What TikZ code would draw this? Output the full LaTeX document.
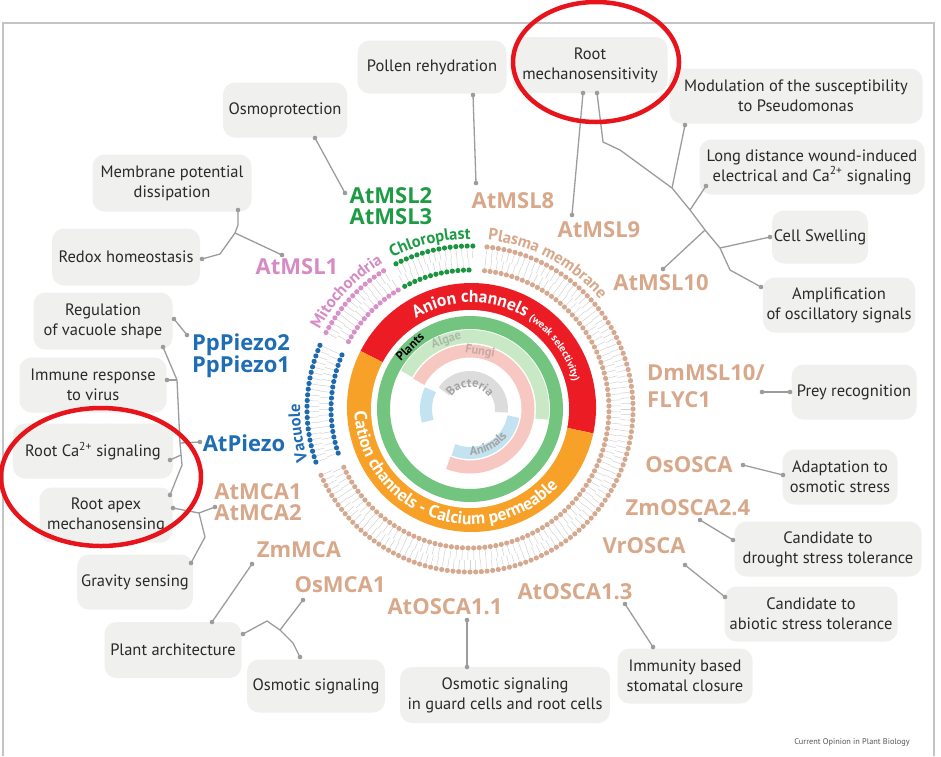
\documentclass[tikz,border=0pt]{standalone}
\usepackage{fontspec}
\setmainfont{PT Sans}
\newfontfamily\labelsans{Open Sans}
\usetikzlibrary{decorations.text}

\definecolor{geneTan}{HTML}{D8A88A}
\definecolor{geneGreen}{HTML}{1E9B45}
\definecolor{genePink}{HTML}{D68BC4}
\definecolor{geneBlue}{HTML}{1F6DB4}
\definecolor{beadTan}{HTML}{D4A98F}
\definecolor{beadGreen}{HTML}{1A9440}
\definecolor{beadPink}{HTML}{D891C8}
\definecolor{beadBlue}{HTML}{1F6AAE}
\definecolor{tailGray}{HTML}{D2D2D2}
\definecolor{boxFill}{HTML}{F0F0EF}
\definecolor{boxText}{HTML}{2A2A2A}
\definecolor{linkGray}{HTML}{9C9C9C}
\definecolor{anionRed}{HTML}{EC1C24}
\definecolor{cationOrange}{HTML}{F7A128}
\definecolor{plantGreen}{HTML}{72C47F}
\definecolor{algaeGreen}{HTML}{C9E8C5}
\definecolor{fungiPink}{HTML}{F7C8C2}
\definecolor{animalBlue}{HTML}{C2E3EF}
\definecolor{bactGray}{HTML}{DCDCDC}
\definecolor{algaeText}{HTML}{A9BBA7}
\definecolor{fungiText}{HTML}{C9A9A5}
\definecolor{bactText}{HTML}{A4A4A4}
\definecolor{markRed}{HTML}{E8141B}
\definecolor{frameGray}{HTML}{C4C4C4}
\definecolor{captionGray}{HTML}{555555}

\newcommand\boxfont{\fontsize{16.5}{20}\selectfont}
\newcommand\genefont{\labelsans\fontsize{22}{22}\selectfont\bfseries}
\newcommand\ringfont{\fontsize{17.5}{17.5}\selectfont\bfseries}
\newcommand\weakfont{\fontsize{10.5}{11}\selectfont\bfseries}
\newcommand\orgfont{\fontsize{16.5}{17}\selectfont\bfseries}
\newcommand\taxfont{\fontsize{12.5}{13}\selectfont\bfseries}

% one leaflet of a bilayer: colour, first angle, step, count, head radius, tail radii
\newcommand\leaflet[7]{%
  \foreach \i [evaluate=\i as \a using #2-#3*\i] in {0,...,#4}{%
    \draw[tailGray, line width=0.5pt] ([shift={(\a:#6)}]C) -- ([shift={(\a:#7)}]C);
    \fill[#1] ([shift={(\a:#5)}]C) circle (2.6);
  }}

\begin{document}
\begin{tikzpicture}[x=1pt,y=1pt,
  fbox/.style={fill=boxFill, rounded corners=12pt, text=boxText, font=\boxfont, align=center, inner sep=0pt},
  gene/.style={font=\genefont, inner sep=0pt, text height=15.7pt, text depth=0pt},
  link/.style={draw=linkGray, line width=1.3pt, line join=round},
  arctext/.style={decorate, decoration={text along path, text align=center, text color=#1}},
]
\useasboundingbox (0,-756) rectangle (941,0);
\fill[white] (0,-756) rectangle (941,0);
\draw[frameGray, line width=1.5pt] (3,-756) -- (3,-23) -- (934,-23) -- (934,-756);

\coordinate (C) at (470,-409);
\coordinate (Co) at (471.5,-407.5);

% ---- membranes (outer and inner leaflets) ----
\leaflet{beadTan}{84}{2}{120}{163}{160}{151}
\leaflet{beadTan}{84}{2.3}{104}{139}{142}{151}
\leaflet{beadGreen}{117}{2}{14}{163}{160}{151}
\leaflet{beadGreen}{118}{2.3}{12}{139}{142}{151}
\leaflet{beadPink}{152}{2}{15}{163}{160}{151}
\leaflet{beadPink}{151}{2.3}{13}{139}{142}{151}
\leaflet{beadBlue}{199}{2}{21}{163}{160}{151}
\leaflet{beadBlue}{198.5}{2.3}{18}{139}{142}{151}

\path[arctext=geneTan, decoration={text={|\orgfont|Plasma membrane}}]
  ([shift={(101:170)}]C) arc[start angle=101, end angle=23, radius=170];
\path[arctext=geneGreen, decoration={text={|\orgfont|Chloroplast}}]
  ([shift={(133.5:170)}]C) arc[start angle=133.5, end angle=73.5, radius=170];
\path[arctext=genePink, decoration={text={|\orgfont|Mitochondria}}]
  ([shift={(166.5:170)}]C) arc[start angle=166.5, end angle=106.5, radius=170];
\path[arctext=geneBlue, decoration={text={|\orgfont|Vacuole}}]
  ([shift={(218:170)}]C) arc[start angle=218, end angle=158, radius=170];

% ---- channel classes ----
\fill[anionRed] (Co) -- ([shift={(-12:124.5)}]Co) arc[start angle=-12, end angle=153, radius=124.5] -- cycle;
\fill[cationOrange] (Co) -- ([shift={(153:124.5)}]Co) arc[start angle=153, end angle=348, radius=124.5] -- cycle;
\fill[white] (C) circle (99);
\path[arctext=white, decoration={text={|\ringfont|Anion channels |\weakfont|(weak selectivity)}}]
  ([shift={(160:105)}]Co) arc[start angle=160, end angle=-24, radius=105];
\path[arctext=white, decoration={text={|\ringfont|Cation channels - Calcium permeable}}]
  ([shift={(160:117)}]Co) arc[start angle=160, end angle=340, radius=117];

% ---- organisms ----
\fill[plantGreen, even odd rule] (C) circle (93) (C) circle (80);
\draw[algaeGreen, line width=13pt] ([shift={(151:72.5)}]C) arc[start angle=151, end angle=-8, radius=72.5];
\draw[fungiPink, line width=13pt] ([shift={(152:58)}]C) arc[start angle=152, end angle=-112, radius=58];
\draw[animalBlue, line width=12pt] ([shift={(154:44)}]C) arc[start angle=154, end angle=196, radius=44];
\draw[animalBlue, line width=12pt] ([shift={(248:44)}]C) arc[start angle=248, end angle=350, radius=44];
\draw[bactGray, line width=13pt] ([shift={(146:31.5)}]C) arc[start angle=146, end angle=-6, radius=31.5];

\node[font=\taxfont, rotate=44, inner sep=0pt] (plants) at ([shift={(134:86.5)}]C) {Plants};
\node[font=\taxfont, rotate=19, inner sep=0pt, text=algaeText] (algae) at ([shift={(109:72.5)}]C) {Algae};
\node[font=\taxfont, rotate=-10, inner sep=0pt, text=fungiText] (fungi) at ([shift={(80:58)}]C) {Fungi};
\path[arctext=bactText, decoration={text={|\taxfont|Bacteria}}]
  ([shift={(160:22)}]C) arc[start angle=160, end angle=20, radius=22];
\path[arctext=bactText, decoration={text={|\taxfont|Animals}}]
  ([shift={(237:46)}]C) arc[start angle=237, end angle=357, radius=46];

% ---- channel names ----
\node[gene, text=geneGreen] (msltwo) at (391,-196) {AtMSL2};
\node[gene, text=geneGreen] (mslthree) at (391,-217) {AtMSL3};
\node[gene, text=genePink] (mslone) at (297,-267) {AtMSL1};
\node[gene, text=geneTan] (msleight) at (513,-201) {AtMSL8};
\node[gene, text=geneTan] (mslnine) at (599,-230) {AtMSL9};
\node[gene, text=geneTan] (mslten) at (661,-283) {AtMSL10};
\node[gene, text=geneBlue] (pptwo) at (241,-343) {PpPiezo2};
\node[gene, text=geneBlue] (ppone) at (241,-365) {PpPiezo1};
\node[gene, text=geneBlue] (atpiezo) at (244,-444) {AtPiezo};
\node[gene, text=geneTan] (mcaone) at (258,-492) {AtMCA1};
\node[gene, text=geneTan] (mcatwo) at (258,-513) {AtMCA2};
\node[gene, text=geneTan] (zmmca) at (299,-550) {ZmMCA};
\node[gene, text=geneTan] (osmca) at (340,-585) {OsMCA1};
\node[gene, text=geneTan] (oscaA) at (445,-607) {AtOSCA1.1};
\node[gene, text=geneTan] (oscaB) at (575,-592) {AtOSCA1.3};
\node[gene, text=geneTan] (vrosca) at (644,-546) {VrOSCA};
\node[gene, text=geneTan] (zmosca) at (688,-508) {ZmOSCA2.4};
\node[gene, text=geneTan] (ososca) at (689,-465) {OsOSCA};
\node[gene, text=geneTan, anchor=west] (dmmsl) at (647,-373) {DmMSL10/};
\node[gene, text=geneTan, anchor=west] (flyc) at (647,-400) {FLYC1};

% ---- functions ----
\node[fbox, minimum width=149pt, minimum height=53pt] (pollen) at (432,-67) {Pollen rehydration};
\node[fbox, minimum width=155pt, minimum height=56pt] (rootmech) at (590,-65) {Root\\mechanosensitivity};
\node[fbox, minimum width=253pt, minimum height=55pt] (modul) at (796,-96) {Modulation of the susceptibility\\to Pseudomonas};
\node[fbox, minimum width=225pt, minimum height=55pt] (longdist) at (812,-167) {Long distance wound-induced\\electrical and Ca\textsuperscript{2+} signaling};
\node[fbox, minimum width=96pt, minimum height=53pt] (cellsw) at (820,-237) {Cell Swelling};
\node[fbox, minimum width=152pt, minimum height=55pt] (ampl) at (839,-305) {Amplification\\of oscillatory signals};
\node[fbox, minimum width=125pt, minimum height=55pt] (prey) at (854,-392) {Prey recognition};
\node[fbox, minimum width=115pt, minimum height=55pt] (adapt) at (840,-477) {Adaptation to\\osmotic stress};
\node[fbox, minimum width=187pt, minimum height=55pt] (drought) at (828,-549) {Candidate to\\drought stress tolerance};
\node[fbox, minimum width=173pt, minimum height=55pt] (abiotic) at (811,-614) {Candidate to\\abiotic stress tolerance};
\node[fbox, minimum width=135pt, minimum height=55pt] (immunity) at (685,-676) {Immunity based\\stomatal closure};
\node[fbox, minimum width=210pt, minimum height=56pt] (osmguard) at (505,-695) {Osmotic signaling\\in guard cells and root cells};
\node[fbox, minimum width=138pt, minimum height=53pt] (osmsig) at (316,-686) {Osmotic signaling};
\node[fbox, minimum width=137pt, minimum height=56pt] (plantarch) at (173,-650) {Plant architecture};
\node[fbox, minimum width=116pt, minimum height=55pt] (gravity) at (135,-582) {Gravity sensing};
\node[fbox, minimum width=133pt, minimum height=55pt] (rootapex) at (106,-515) {Root apex\\mechanosensing};
\node[fbox, minimum width=160pt, minimum height=55pt] (rootca) at (93,-451) {Root Ca\textsuperscript{2+} signaling};
\node[fbox, minimum width=147pt, minimum height=55pt] (immune) at (93,-385) {Immune response\\to virus};
\node[fbox, minimum width=139pt, minimum height=57pt] (regul) at (103,-321) {Regulation\\of vacuole shape};
\node[fbox, minimum width=148pt, minimum height=57pt] (redox) at (126,-257) {Redox homeostasis};
\node[fbox, minimum width=159pt, minimum height=57pt] (membrane) at (172,-183) {Membrane potential\\dissipation};
\node[fbox, minimum width=124pt, minimum height=55pt] (osmoprot) at (285,-110) {Osmoprotection};

% ---- connector ends and branch points ----
\foreach \n/\p in {osmoD/{315,-138}, msltwoD/{345,-193}, pollenD/{473,-95}, msleightD/{476,-183},
  rmA/{583,-93}, mslnineD/{572,-215}, rmB/{597,-93}, amplD/{761,-287}, modulD/{685,-125},
  longD/{706,-186}, cellD/{770,-237}, mslthenD/{663,-269}, memD/{238,-210}, redoxD/{202,-259},
  msloneD/{282,-255}, regA/{174,-319}, ppD/{187,-335}, regB/{163,-347}, immD/{167,-380},
  atpD/{200,-442}, rcaD/{170,-460}, rapexA/{170,-495}, rapexB/{173,-508}, mcaD/{215,-507},
  gravD/{191,-563}, zmmcaD/{252,-564}, paA/{212,-622}, osmcaD/{303,-600}, paB/{243,-634},
  osmsD/{300,-657}, oscaAD/{467,-620}, guardD/{467,-667}, oscaBD/{625,-604}, immunD/{653,-647},
  vrD/{685,-565}, abioD/{725,-597}, zmoD/{700,-520}, drouD/{733,-540}, osoD/{743,-465},
  adapD/{783,-475}, dmD/{762,-392}, preyD/{790,-392}}
  {\coordinate (\n) at (\p);}
\foreach \n/\p in {tA/{603,-142}, tB/{620,-150}, jMod/{672,-188}, jLong/{690,-210}, jTen/{705,-230},
  jCell/{720,-248}, tC/{730,-270}, mA/{238,-225}, mJ/{235,-233}, rJ/{220,-254},
  pA/{177,-380}, pB/{180,-443}, pR/{181,-455}, pC/{182,-465}, kJ/{199,-513}, kG/{205,-537},
  oJ/{280,-630}, oL/{267,-621}, oR/{293,-643}}
  {\coordinate (\n) at (\p);}

\draw[link] (osmoD) -- (msltwoD);
\draw[link] (pollenD) -- (msleightD);
\draw[link] (rmA) -- (mslnineD);
\draw[link] (rmB) -- (tA) -- (tB) -- (jMod) -- (jLong) -- (jTen) -- (jCell) -- (tC) -- (amplD);
\draw[link] (modulD) -- (jMod);
\draw[link] (longD) -- (jLong);
\draw[link] (mslthenD) -- (jTen);
\draw[link] (cellD) -- (jCell);
\draw[link] (memD) -- (mA) -- (mJ) -- (msloneD);
\draw[link] (redoxD) -- (rJ) -- (mJ);
\draw[link] (regA) -- (ppD);
\draw[link] (regB) -- (pA) -- (pB) -- (pC) -- (rapexA);
\draw[link] (immD) -- (pA);
\draw[link] (atpD) -- (pB);
\draw[link] (rcaD) -- (pR);
\draw[link] (mcaD) -- (kJ) -- (rapexB);
\draw[link] (kJ) -- (kG) -- (gravD);
\draw[link] (zmmcaD) -- (paA);
\draw[link] (osmcaD) -- (oJ);
\draw[link] (paB) -- (oL) -- (oJ) -- (oR) -- (osmsD);
\draw[link] (oscaAD) -- (guardD);
\draw[link] (oscaBD) -- (immunD);
\draw[link] (vrD) -- (abioD);
\draw[link] (zmoD) -- (drouD);
\draw[link] (osoD) -- (adapD);
\draw[link] (dmD) -- (preyD);

\foreach \n in {osmoD, msltwoD, pollenD, msleightD, rmA, mslnineD, rmB, amplD, modulD, longD,
  cellD, mslthenD, memD, redoxD, msloneD, regA, ppD, regB, immD, atpD, rcaD, rapexA, rapexB,
  mcaD, gravD, zmmcaD, paA, osmcaD, paB, osmsD, oscaAD, guardD, oscaBD, immunD, vrD, abioD,
  zmoD, drouD, osoD, adapD, dmD, preyD}
  {\fill[linkGray] (\n) circle (2.3);}

% ---- highlight rings ----
\draw[markRed, line width=4.5pt] (596,-62) ellipse [x radius=83, y radius=60];
\draw[markRed, line width=4.5pt] (101,-477) ellipse [x radius=100, y radius=69];

\node[font=\fontsize{8.3}{9}\selectfont, text=captionGray, inner sep=0pt] (credit) at (852,-742) {Current Opinion in Plant Biology};
\end{tikzpicture}
\end{document}
